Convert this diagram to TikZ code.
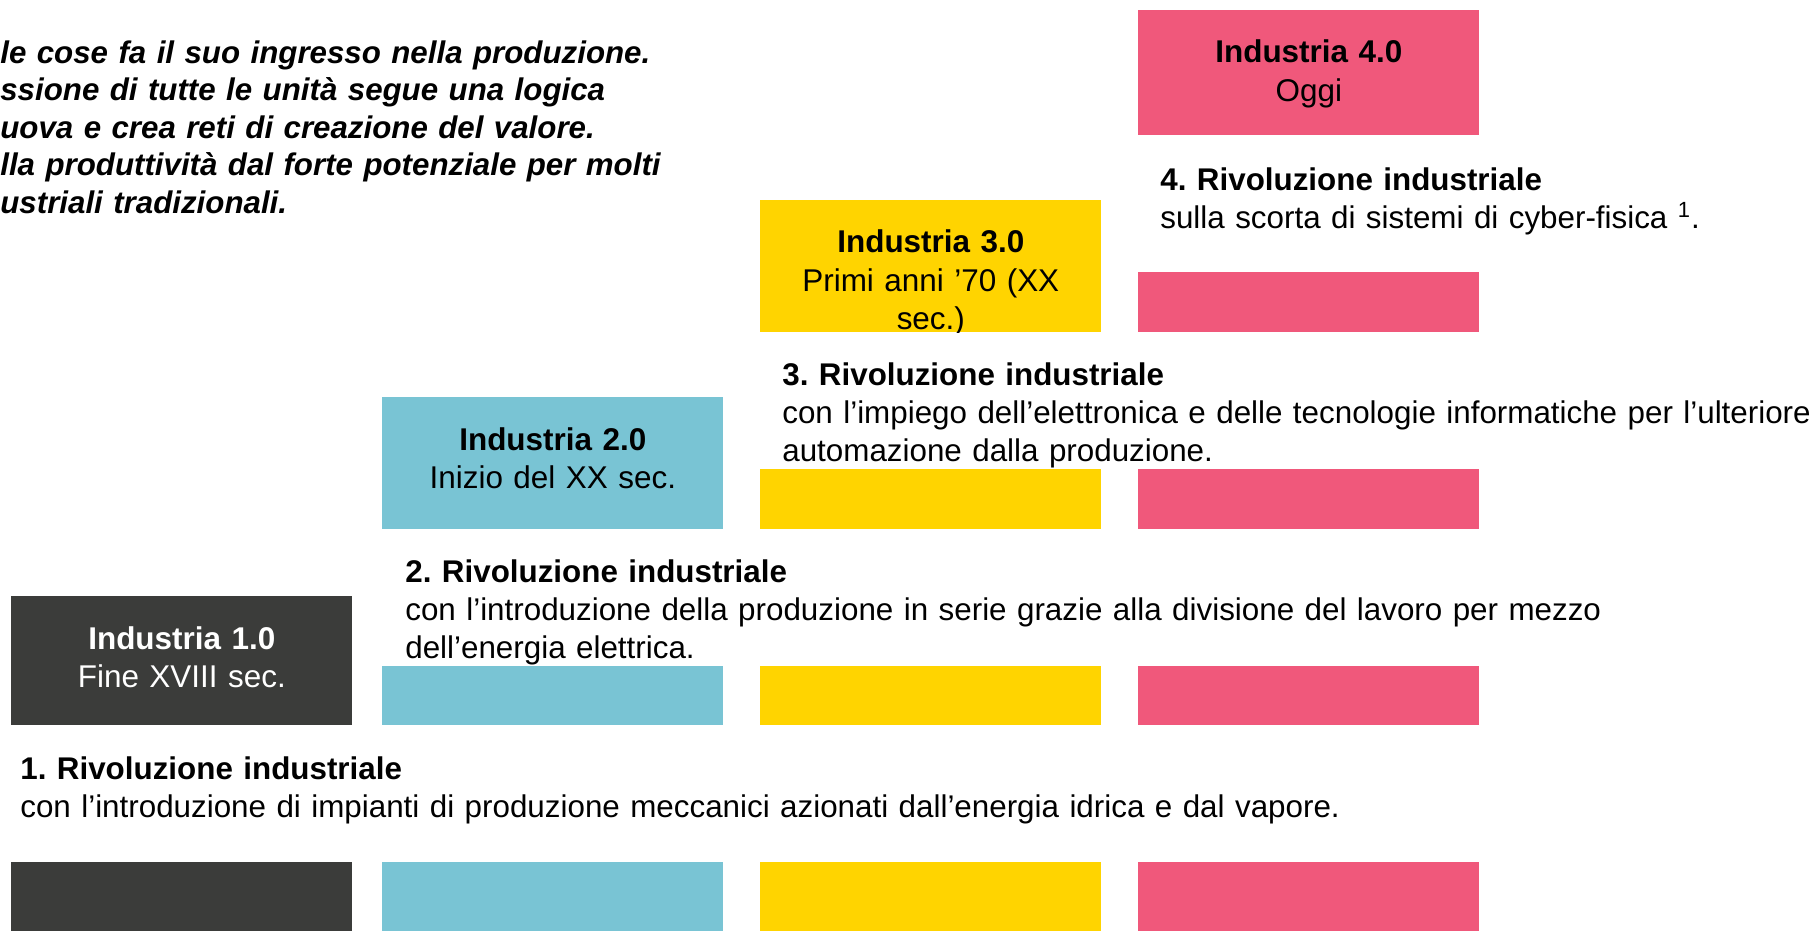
\documentclass[tikz,border=0pt]{standalone}
\usepackage{fontspec}
\setmainfont{Liberation Sans}
\usepackage{xcolor}
\usepackage{tikz}
\usetikzlibrary{positioning}
\definecolor{coalgrey}{HTML}{3B3C3A}
\definecolor{steamcyan}{HTML}{79C4D4}
\definecolor{voltyellow}{HTML}{FFD400}
\definecolor{cyberpink}{HTML}{F0587B}
\frenchspacing

\begin{document}
\begin{tikzpicture}[x=0.02cm, y=-0.02cm]
  \useasboundingbox[fill=white] (0,0) rectangle (1818,931);

  % Styles for the stage boxes and the revolution texts
  \tikzset{
    stage/.style={rectangle, inner sep=0pt, anchor=north west, minimum width=6.82cm},
    stagetext/.style={anchor=base, inner sep=0pt, text width=6.4cm, align=center, font=\fontsize{17.9}{21.7}\selectfont},
    revtext/.style={anchor=base west, inner sep=0pt, text width=32cm, align=left, font=\fontsize{17.85}{21.7}\selectfont}
  }

  % Intro text, cut off at the left edge
  \node[anchor=base west, inner sep=0pt, text width=15cm, align=left, font=\fontsize{17.8}{21.4}\selectfont\bfseries\itshape] (intro) at (0,63)
    {le cose fa il suo ingresso nella produzione.\\ssione di tutte le unità segue una logica\\uova e crea reti di creazione del valore.\\lla produttività dal forte potenziale per molti\\ustriali tradizionali.};

  % Plain blocks of the staircase
  \fill[coalgrey] (11,862) rectangle (352,931);
  \foreach \ya/\yb in {666/725, 862/931}
    \fill[steamcyan] (382,\ya) rectangle (723,\yb);
  \foreach \ya/\yb in {469/529, 666/725, 862/931}
    \fill[voltyellow] (760,\ya) rectangle (1101,\yb);
  \foreach \ya/\yb in {272/332, 469/529, 666/725, 862/931}
    \fill[cyberpink] (1138,\ya) rectangle (1479,\yb);

  % Stage boxes
  \node[stage, fill=coalgrey, minimum height=2.58cm] (s1) at (11,596) {};
  \node[stage, fill=steamcyan, minimum height=2.64cm] (s2) at (382,397) {};
  \node[stage, fill=voltyellow, minimum height=2.64cm] (s3) at (760,200) {};
  \node[stage, fill=cyberpink, minimum height=2.5cm] (s4) at (1138,10) {};

  \node[stagetext, white] (t1) at ([yshift=-1.06cm]s1.north) {\textbf{Industria 1.0}\\Fine XVIII sec.};
  \node[stagetext] (t2) at ([yshift=-1.06cm]s2.north) {\textbf{Industria 2.0}\\Inizio del XX sec.};
  \begin{scope}
    \clip (s3.north west) rectangle (s3.south east);
    \node[stagetext] (t3) at ([yshift=-1.06cm]s3.north) {\textbf{Industria 3.0}\\Primi anni '70 (XX\\sec.)};
  \end{scope}
  \node[stagetext] (t4) at ([yshift=-1.06cm]s4.north) {\textbf{Industria 4.0}\\Oggi};

  % Revolution texts
  \node[revtext] (r1) at (20,779) {\textbf{1. Rivoluzione industriale}\\con l'introduzione di impianti di produzione meccanici azionati dall'energia idrica e dal vapore.};
  \node[revtext] (r2) at (405,582) {\textbf{2. Rivoluzione industriale}\\con l'introduzione della produzione in serie grazie alla divisione del lavoro per mezzo\\dell'energia elettrica.};
  \node[revtext] (r3) at (782,385) {\textbf{3. Rivoluzione industriale}\\con l'impiego dell'elettronica e delle tecnologie informatiche per l'ulteriore\\automazione dalla produzione.};
  \node[revtext] (r4) at (1160,190) {\textbf{4. Rivoluzione industriale}\\sulla scorta di sistemi di cyber-fisica \textsuperscript{1}.};
\end{tikzpicture}
\end{document}
